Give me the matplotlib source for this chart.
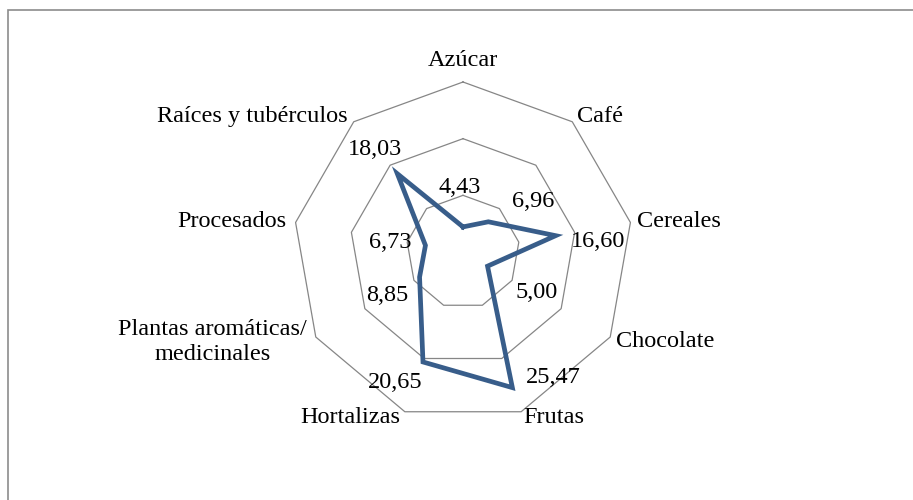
import numpy as np
import matplotlib
matplotlib.use("Agg")
import matplotlib.pyplot as plt
from matplotlib.patches import Rectangle

categories = ["Azúcar", "Café", "Cereales", "Chocolate", "Frutas", "Hortalizas",
              "Plantas aromáticas/\nmedicinales", "Procesados", "Raíces y tubérculos"]
values = [4.43, 6.96, 16.60, 5.00, 25.47, 20.65, 8.85, 6.73, 18.03]
value_labels = ["4,43", "6,96", "16,60", "5,00", "25,47", "20,65", "8,85", "6,73", "18,03"]
ring_levels = [10, 20, 30]

# label placement (pixels) - style only
val_off = [(-3, 39), (45, 20), (42, -6), (49, -26), (41, 10), (-28, -21), (-32, -18), (-35, 3), (-22, 24)]
cat_off = [(0, 21, 'center'), (5, 5, 'left'), (7, 1, 'left'), (6, -5, 'left'), (2, -6, 'left'),
           (-5, -6, 'right'), (-9, -5, 'right'), (-9, 1, 'right'), (-6, 5, 'right')]

plt.rcParams['font.family'] = ['Liberation Serif', 'DejaVu Serif']
FS = 17.5

fig = plt.figure(figsize=(9.13, 5.0), dpi=100)
fig.patches.append(Rectangle((8 / 913, -0.1), 1.2, 1 - 10 / 500 + 0.1, transform=fig.transFigure,
                             fill=False, edgecolor='#8c8c8c', linewidth=1.2))

ax = fig.add_axes([(463 - 170) / 913, (500 - 252 - 170) / 500, 340 / 913, 340 / 500], projection='polar')
ax.set_theta_zero_location('N')
ax.set_theta_direction(-1)
ax.set_ylim(0, 30)
ax.grid(False)
ax.set_xticks([])
ax.set_yticks([])
ax.spines['polar'].set_visible(False)
ax.patch.set_visible(False)

n = len(categories)
theta = np.arange(n) * 2 * np.pi / n
tc = np.append(theta, theta[0])

for lv in ring_levels:
    ax.plot(tc, [lv] * (n + 1), color='#868686', linewidth=0.9, clip_on=False, zorder=1)

vc = values + [values[0]]
ax.plot(tc, vc, color='#385D8A', linewidth=3.4, solid_joinstyle='miter', clip_on=False, zorder=3)

for t, v, lab, (dx, dy) in zip(theta, values, value_labels, val_off):
    ax.annotate(lab, xy=(t, v), xytext=(dx, dy), textcoords='offset pixels',
                ha='center', va='center', fontsize=FS, zorder=4, annotation_clip=False)

for t, cat, (dx, dy, ha) in zip(theta, categories, cat_off):
    ax.annotate(cat, xy=(t, ring_levels[-1]), xytext=(dx, dy), textcoords='offset pixels',
                ha=ha, va='center', multialignment='center', fontsize=FS, linespacing=1.25,
                annotation_clip=False)

fig.savefig('out.png', dpi=100)
